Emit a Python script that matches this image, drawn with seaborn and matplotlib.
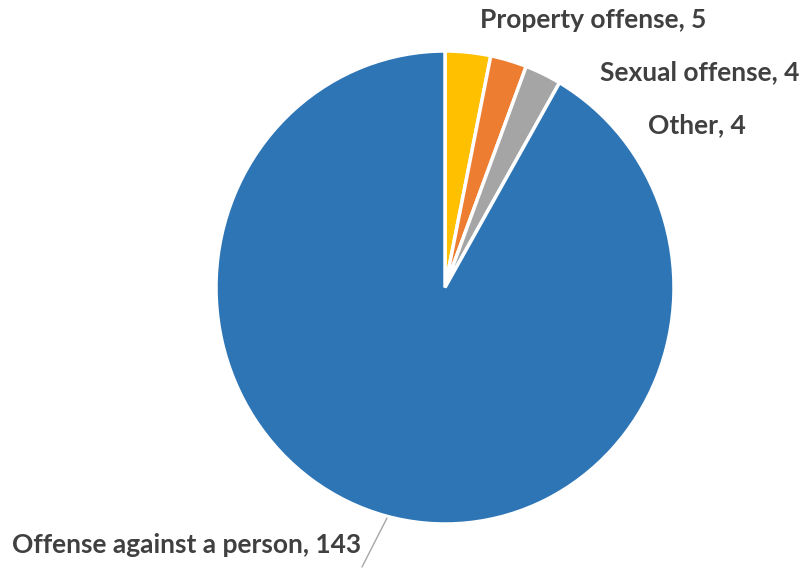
import matplotlib
matplotlib.use("Agg")
import matplotlib.pyplot as plt
from matplotlib.lines import Line2D
import seaborn as sns

# Offense categories and counts, in clockwise order from 12 o'clock
categories = ["Property offense", "Sexual offense", "Other", "Offense against a person"]
counts = [5, 4, 4, 143]
colors = ["#FFC000", "#ED7D31", "#A5A5A5", "#2E75B6"]

sns.set_theme(style="white")
plt.rcParams["font.family"] = ["Lato", "DejaVu Sans"]

W, H = 808, 569
fig = plt.figure(figsize=(W / 100, H / 100), dpi=100)
fig.patch.set_facecolor("white")

# pie area in pixels: left, top, right, bottom
px_l, px_t, px_r, px_b = 216, 51, 674, 524
ax = fig.add_axes([px_l / W, 1 - px_b / H, (px_r - px_l) / W, (px_b - px_t) / H])
wedges, _ = ax.pie(
    counts,
    colors=colors,
    startangle=90,
    counterclock=False,
    radius=1.0,
    wedgeprops=dict(edgecolor="white", linewidth=2.5),
)
ax.set_xlim(-1, 1)
ax.set_ylim(-1, 1)
ax.set_aspect("auto")
ax.axis("off")

text_color = "#404040"
fs = 19
labels = [f"{c}, {v}" for c, v in zip(categories, counts)]
label_pos = [(480, 20), (600, 72), (648, 125), (12, 545)]
for lab, (x, y) in zip(labels, label_pos):
    fig.text(x / W, 1 - y / H, lab, ha="left", va="center",
             fontsize=fs, fontweight="bold", color=text_color)

# leader line for the large slice
fig.add_artist(Line2D([387 / W, 362 / W], [1 - 518 / H, 1 - 567 / H],
                      transform=fig.transFigure, color="#A6A6A6", linewidth=1.0))

fig.savefig("out.png", dpi=100)
